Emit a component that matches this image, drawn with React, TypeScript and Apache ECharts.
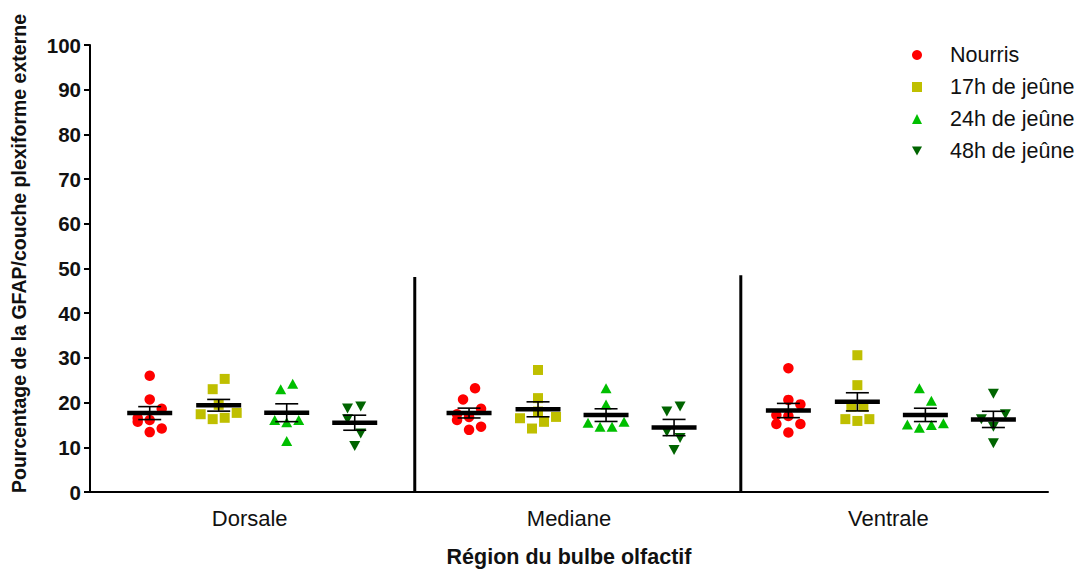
import React, { useEffect, useRef } from "react";
import * as echarts from "echarts";

const categories = ["Dorsale", "Mediane", "Ventrale"];
const groupNames = ["Nourris", "17h de jeûne", "24h de jeûne", "48h de jeûne"];
const groupColors = ["#FF0000", "#BFBF00", "#00BF00", "#006400"];
const yTicks = [0, 100, 10];

// values per category [Dorsale, Mediane, Ventrale]
const nourrisValues = [
  [26.0, 20.7, 18.6, 16.5, 16.1, 15.7, 14.2, 13.4],
  [23.2, 20.7, 18.6, 17.4, 16.1, 16.8, 13.9, 14.6],
  [27.7, 20.6, 19.6, 17.2, 17.0, 15.2, 15.2, 13.3],
];
const nourrisJitter = [
  [0, 0, 1, -1, 0, -1, 1, 0],
  [0.5, -0.5, 1, -1, -1, 0, 0, 1],
  [0, 0, 1, -1, 0, -1, 1, 0],
];
const jeune17Values = [
  [25.3, 23.0, 19.5, 17.4, 16.3, 16.6, 17.7],
  [27.3, 21.0, 18.0, 16.5, 15.7, 16.8, 14.2],
  [30.6, 23.9, 19.1, 19.1, 16.3, 15.9, 16.3],
];
const jeune17Jitter = [
  [0.5, -0.5, 0, -1.5, -0.5, 0.5, 1.5],
  [0, 0, 0, -1.5, 0.5, 1.5, -0.5],
  [0, 0, -0.5, 0.5, -1, 0, 1],
];
const jeune24Values = [
  [23.0, 24.2, 16.1, 15.6, 16.1, 11.4],
  [23.2, 19.6, 15.5, 14.6, 14.6, 15.7],
  [23.2, 20.4, 15.1, 14.4, 15.0, 15.4],
];
const jeune24Jitter = [
  [-0.5, 0.5, -1, 0, 1, 0],
  [0, 0, -1.5, -0.5, 0.5, 1.5],
  [-0.5, 0.5, -1.5, -0.5, 0.5, 1.5],
];
const jeune48Values = [
  [18.7, 19.1, 16.3, 13.1, 10.3],
  [18.0, 19.1, 13.5, 12.1, 9.4],
  [22.0, 17.4, 16.3, 14.6, 10.9],
];
const jeune48Jitter = [
  [-0.6, 0.5, -0.6, 0.5, 0],
  [-0.6, 0.5, -0.6, 0.5, 0],
  [0, 1, -1, 0, 0],
];

const dividerPositions = [1.017, 2.038];
const dividerHeights = [48.1, 48.5];

const allValues = [nourrisValues, jeune17Values, jeune24Values, jeune48Values];
const allJitter = [nourrisJitter, jeune17Jitter, jeune24Jitter, jeune48Jitter];

const groupOffsets = [-0.313, -0.097, 0.116, 0.329];
const jitterUnit = 0.0376;
const FONT = "'Liberation Sans', Arial, sans-serif";

const downTriangle = "path://M0,0 L10,0 L5,9 Z";
const symbols = ["circle", "rect", "triangle", downTriangle];
const symbolSizes = [10.5, 10, [11, 10], [11, 10]];

function meanSem(arr: number[]) {
  const n = arr.length;
  const m = arr.reduce((a, b) => a + b, 0) / n;
  const v = arr.reduce((a, b) => a + (b - m) * (b - m), 0) / (n - 1);
  return [m, Math.sqrt(v) / Math.sqrt(n)];
}

export default function App() {
  const ref = useRef<HTMLDivElement>(null);
  useEffect(() => {
    document.body.style.margin = "0";
    const chart = echarts.init(ref.current!, null, { renderer: "svg" });

    const scatterSeries = groupNames.map((name, g) => ({
      name,
      type: "scatter",
      xAxisIndex: 1,
      symbol: symbols[g],
      symbolSize: symbolSizes[g],
      itemStyle: { color: groupColors[g], opacity: 1 },
      z: 2,
      data: categories.flatMap((_, c) =>
        allValues[g][c].map((v, i) => [
          c + 0.5 + groupOffsets[g] + allJitter[g][c][i] * jitterUnit,
          v,
        ])
      ),
    }));

    const statsData: number[][] = [];
    categories.forEach((_, c) => {
      groupNames.forEach((__, g) => {
        const [m, s] = meanSem(allValues[g][c]);
        statsData.push([c + 0.5 + groupOffsets[g], m, s]);
      });
    });

    const statsSeries = {
      type: "custom",
      xAxisIndex: 1,
      z: 5,
      silent: true,
      encode: { x: 0, y: 1 },
      data: statsData,
      renderItem: (params: any, api: any) => {
        const x = api.value(0);
        const m = api.value(1);
        const s = api.value(2);
        const c = api.coord([x, m]);
        const t = api.coord([x, m + s]);
        const b = api.coord([x, m - s]);
        const st = { stroke: "#000", lineWidth: 1.6 };
        return {
          type: "group",
          children: [
            { type: "line", shape: { x1: c[0], y1: t[1], x2: c[0], y2: b[1] }, style: st },
            { type: "line", shape: { x1: c[0] - 11.5, y1: t[1], x2: c[0] + 11.5, y2: t[1] }, style: st },
            { type: "line", shape: { x1: c[0] - 11.5, y1: b[1], x2: c[0] + 11.5, y2: b[1] }, style: st },
            { type: "line", shape: { x1: c[0] - 22.5, y1: c[1], x2: c[0] + 22.5, y2: c[1] }, style: { stroke: "#000", lineWidth: 4.5 } },
          ],
        };
      },
    };

    const dividerSeries = dividerPositions.map((x, i) => ({
      type: "line",
      xAxisIndex: 1,
      symbol: "none",
      silent: true,
      lineStyle: { color: "#000", width: 3 },
      data: [
        [x, 0],
        [x, dividerHeights[i]],
      ],
    }));

    chart.setOption({
      animation: false,
      textStyle: { fontFamily: FONT },
      grid: { left: 90, right: 38, top: 45, bottom: 82, containLabel: false },
      legend: {
        orient: "vertical",
        left: 907,
        top: 39,
        data: groupNames,
        itemWidth: 10,
        itemHeight: 10,
        itemGap: 10,
        textStyle: { fontSize: 21.5, lineHeight: 20, color: "#111", fontFamily: FONT, padding: [0, 0, 0, 23] },
      },
      xAxis: [
        {
          type: "category",
          data: categories,
          name: "Région du bulbe olfactif",
          nameLocation: "middle",
          nameGap: 54,
          nameTextStyle: { fontSize: 21.5, fontWeight: "bold", color: "#111", fontFamily: FONT },
          axisLine: { lineStyle: { color: "#000", width: 2 } },
          axisTick: { alignWithLabel: true, length: 6, lineStyle: { color: "#000", width: 2 } },
          axisLabel: { fontSize: 22, color: "#111", margin: 15, fontFamily: FONT },
        },
        { type: "value", min: 0, max: 3, show: false },
      ],
      yAxis: {
        type: "value",
        min: yTicks[0],
        max: yTicks[1],
        interval: yTicks[2],
        name: "Pourcentage de la GFAP/couche plexiforme externe",
        nameLocation: "middle",
        nameGap: 61,
        nameTextStyle: { fontSize: 19.5, fontWeight: "bold", color: "#111", fontFamily: FONT, padding: [0, 0, 0, 30] },
        axisLine: { show: true, lineStyle: { color: "#000", width: 2 } },
        axisTick: { show: true, length: 6, lineStyle: { color: "#000", width: 2 } },
        axisLabel: { fontSize: 20.5, fontWeight: "bold", color: "#111", margin: 9, fontFamily: FONT },
        splitLine: { show: false },
      },
      series: [...scatterSeries, statsSeries, ...dividerSeries],
    });
    return () => chart.dispose();
  }, []);
  return <div ref={ref} style={{ width: 1086, height: 574 }} />;
}
